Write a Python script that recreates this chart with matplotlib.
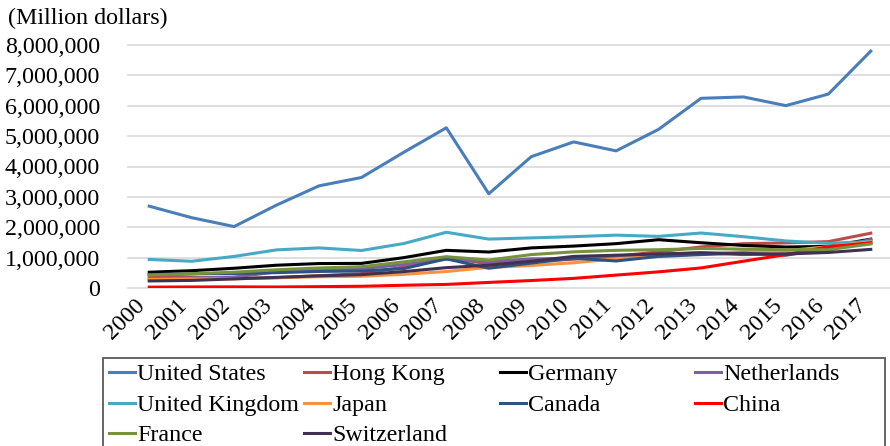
import numpy as np
import matplotlib
matplotlib.use("Agg")
import matplotlib.pyplot as plt
from matplotlib.lines import Line2D
from matplotlib.patches import Rectangle
from matplotlib.ticker import FuncFormatter

# Outward FDI stock, million dollars
years = [str(y) for y in range(2000, 2018)]

united_states = [2694014, 2314934, 2022588, 2729126, 3362796, 3637996, 4470343, 5274991, 3102418,
                 4322476, 4809587, 4514327, 5222100, 6244549, 6289976, 6004448, 6383750, 7799045]
hong_kong = [388380, 352602, 309430, 339649, 405589, 470458, 688974, 1010000, 790000,
             880000, 948000, 1045000, 1191000, 1352000, 1459000, 1485000, 1527000, 1804247]
germany = [520000, 570000, 650000, 750000, 805000, 810000, 1000000, 1240000, 1185000,
           1320000, 1380000, 1460000, 1590000, 1490000, 1400000, 1350000, 1370000, 1607380]
netherlands = [305461, 330000, 360000, 530000, 600000, 640000, 770000, 950000, 870000,
               960000, 970000, 1010000, 1100000, 1160000, 1100000, 1130000, 1240000, 1604767]
united_kingdom = [940197, 880000, 1040000, 1255000, 1320000, 1235000, 1465000, 1835000, 1610000,
                  1650000, 1690000, 1740000, 1700000, 1810000, 1690000, 1550000, 1470000, 1531683]
japan = [278442, 300000, 304000, 335000, 371000, 386000, 450000, 543000, 680000,
         741000, 831000, 963000, 1055000, 1118000, 1193000, 1227000, 1360000, 1519983]
canada = [442623, 466000, 478000, 505000, 545000, 560000, 640000, 960000, 650000,
          820000, 980000, 890000, 1040000, 1100000, 1150000, 1080000, 1300000, 1487231]
china = [27768, 34654, 37172, 33222, 44777, 57206, 90630, 117911, 183971,
         245755, 317211, 424781, 531941, 660480, 882640, 1097865, 1357390, 1482020]
france = [430000, 470000, 520000, 600000, 660000, 700000, 860000, 1030000, 920000,
          1100000, 1190000, 1240000, 1260000, 1300000, 1280000, 1260000, 1260000, 1451663]
switzerland = [232161, 250000, 300000, 350000, 400000, 440000, 540000, 670000, 750000,
               880000, 1040000, 1080000, 1120000, 1160000, 1120000, 1120000, 1170000, 1271128]

series = [
    ("United States", united_states, "#4A7EBB"),
    ("Hong Kong", hong_kong, "#BE4B48"),
    ("Germany", germany, "#000000"),
    ("Netherlands", netherlands, "#7D60A0"),
    ("United Kingdom", united_kingdom, "#46AAC5"),
    ("Japan", japan, "#F69240"),
    ("Canada", canada, "#2E5283"),
    ("China", china, "#FF0000"),
    ("France", france, "#76923C"),
    ("Switzerland", switzerland, "#403152"),
]

FONT = ["Liberation Serif", "DejaVu Serif"]
FS = 17.3
W, H = 890, 446

fig = plt.figure(figsize=(W / 100, H / 100), dpi=100)
ax = fig.add_axes([128 / W, 1 - 288 / H, (892 - 128) / W, (288 - 45) / H])

x = np.arange(len(years))
for name, vals, color in series:
    ax.plot(x, vals, color=color, lw=2.2, solid_joinstyle="round", zorder=3)

ax.set_xlim(-0.5, len(years) - 0.5)
ax.set_ylim(0, 8_000_000)
ax.set_yticks(np.arange(0, 8_000_001, 1_000_000))
ax.yaxis.set_major_formatter(FuncFormatter(lambda v, p: f"{int(v):,}"))
ax.set_xticks(x)
ax.set_xticklabels(years, rotation=45, ha="right", va="top")

ax.grid(axis="y", color="#D9D9D9", lw=1.2, zorder=0)
ax.set_axisbelow(True)
for gl in ax.get_ygridlines():
    gl.set_clip_on(False)
for s in ax.spines.values():
    s.set_visible(False)
ax.tick_params(axis="y", length=0, pad=20, labelsize=FS)
ax.tick_params(axis="x", length=0, pad=5, labelsize=FS)
for lab in ax.get_xticklabels() + ax.get_yticklabels():
    lab.set_family(FONT)
    lab.set_color("black")

fig.text(8 / W, 1 - 18 / H, "(Million dollars)", family=FONT, fontsize=FS,
         va="center", ha="left")


def fx(px):
    return px / W


def fy(py):
    return 1 - py / H


# Legend box and entries
fig.add_artist(Rectangle((fx(103), fy(470)), fx(885) - fx(103), fy(358) - fy(470),
                         transform=fig.transFigure, fill=False, ec="#595959", lw=1.3))
col_x = [109, 304, 500, 695]
row_y = [372, 403, 433]
for i, (name, vals, color) in enumerate(series):
    r, c = divmod(i, 4)
    x0, y0 = col_x[c], row_y[r]
    fig.add_artist(Line2D([fx(x0), fx(x0 + 26)], [fy(y0), fy(y0)],
                          transform=fig.transFigure, color=color, lw=2.2))
    fig.text(fx(x0 + 28), fy(y0), name, family=FONT, fontsize=FS,
             va="center_baseline", ha="left")

fig.savefig("out.png", dpi=100)
